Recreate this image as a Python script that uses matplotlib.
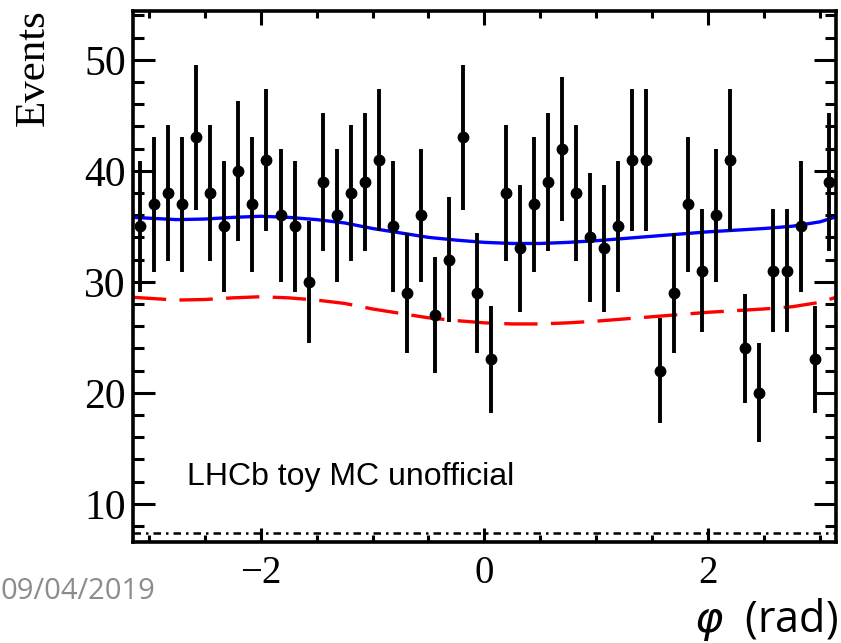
import numpy as np
import matplotlib.pyplot as plt
from matplotlib.ticker import MultipleLocator

# event counts per bin, 50 bins over [-pi, pi]
counts = [35, 37, 38, 37, 43, 38, 35, 40, 37, 41,
          36, 35, 30, 39, 36, 38, 39, 41, 35, 29,
          36, 27, 32, 43, 29, 23, 38, 33, 37, 39,
          42, 38, 34, 33, 35, 41, 41, 22, 29, 37,
          31, 36, 41, 24, 20, 31, 31, 35, 23, 39]

# fit curves
phi_curve = [-3.1416, -2.75, -2.5, -2.25, -2.0, -1.75, -1.5, -1.25, -1.0, -0.75,
             -0.5, -0.25, 0.0, 0.25, 0.5, 0.75, 1.0, 1.25, 1.5, 1.75,
             2.0, 2.25, 2.5, 2.75, 3.0, 3.1416]
total_fit = [35.8, 35.6, 35.65, 35.8, 35.9, 35.8, 35.6, 35.3, 34.8, 34.4,
             34.0, 33.75, 33.55, 33.45, 33.45, 33.55, 33.7, 33.9, 34.1, 34.3,
             34.5, 34.65, 34.8, 35.0, 35.4, 35.85]
signal_fit = [28.6, 28.35, 28.4, 28.55, 28.65, 28.55, 28.35, 28.05, 27.55, 27.15,
              26.75, 26.5, 26.3, 26.2, 26.2, 26.3, 26.45, 26.65, 26.85, 27.05,
              27.25, 27.4, 27.55, 27.75, 28.15, 28.6]
bkg_level = 7.35

edges = np.linspace(-np.pi, np.pi, len(counts) + 1)
centers = 0.5 * (edges[:-1] + edges[1:])
counts = np.array(counts)
errs = np.sqrt(counts)

fig = plt.figure(figsize=(8.41, 6.43), dpi=100)
ax = fig.add_axes([0.158, 0.157, 0.836, 0.826])

serif = 'Liberation Serif'

ax.plot([-np.pi, np.pi], [bkg_level, bkg_level], color='black', lw=1.8,
        linestyle=(0, (3, 2, 1, 2)))
ax.plot(phi_curve, signal_fit, color='#ff0000', lw=2.4, linestyle=(0, (10, 4)))
ax.plot(phi_curve, total_fit, color='#0000ff', lw=2.4)
ax.errorbar(centers, counts, yerr=errs, fmt='o', color='black', ms=7.5,
            elinewidth=2.8, capsize=0)

ax.set_xlim(-np.pi, np.pi)
ax.set_ylim(6.55, 54.4)

ax.xaxis.set_major_locator(MultipleLocator(2))
ax.xaxis.set_minor_locator(MultipleLocator(0.5))
ax.yaxis.set_major_locator(MultipleLocator(10))
ax.yaxis.set_minor_locator(MultipleLocator(2))
ax.tick_params(axis='both', which='both', direction='in', top=True, right=True,
               width=2.2, labelsize=30)
ax.tick_params(axis='x', which='major', length=10, pad=9, labelsize=28)
ax.tick_params(axis='x', which='minor', length=5)
ax.tick_params(axis='y', which='major', length=16, pad=5)
ax.tick_params(axis='y', which='minor', length=8)
ax.set_xticks([-2, 0, 2])
ax.set_xticklabels(['\u22122', '0', '2'])
for lab in ax.get_xticklabels() + ax.get_yticklabels():
    lab.set_fontfamily(serif)
for s in ax.spines.values():
    s.set_linewidth(2.6)

fig.text(0.040, 0.985, 'Events', rotation=90, ha='center', va='top',
         fontsize=31, family=serif)
ax.text(-2.66, 11.7, 'LHCb toy MC unofficial', fontsize=23,
        family='Liberation Sans', ha='left', va='baseline')
fig.text(0.997, 0.0, '$\\varphi$  (rad)', ha='right', va='bottom', fontsize=31,
         family='Open Sans')
fig.text(0.0, 0.080, '09/04/2019', ha='left', va='center', fontsize=21,
         family='Open Sans', color='#8c8c8c')

fig.savefig('out.png', dpi=100)
